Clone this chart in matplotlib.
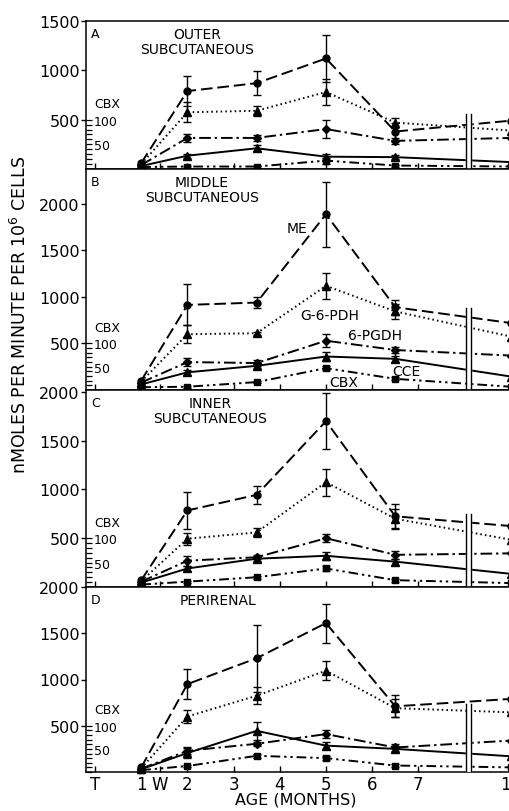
import numpy as np
import matplotlib
matplotlib.use("Agg")
import matplotlib.pyplot as plt
from matplotlib import transforms

# sampling ages (months); 10 sits past the axis break
months = [1, 2, 3.5, 5, 6.5, 10]

panel_letters = ["A", "B", "C", "D"]
panel_titles = ["OUTER\nSUBCUTANEOUS", "MIDDLE\nSUBCUTANEOUS",
                "INNER\nSUBCUTANEOUS", "PERIRENAL"]
panel_ymax = [1500, 2376, 2020, 2000]
panel_yticks = [[500, 1000, 1500], [500, 1000, 1500, 2000],
                [500, 1000, 1500, 2000], [500, 1000, 1500, 2000]]

# one row per panel (A, B, C, D), nmoles/min/10^6 cells
me_vals = [[60, 790, 870, 1120, 380, 490],
           [100, 915, 940, 1890, 890, 720],
           [70, 785, 945, 1700, 725, 625],
           [50, 950, 1230, 1610, 710, 790]]
me_err = [[0, 150, 120, 240, 90, 0],
          [0, 220, 60, 350, 80, 0],
          [0, 190, 90, 290, 130, 0],
          [0, 160, 360, 210, 120, 0]]

g6pdh_vals = [[50, 575, 590, 780, 470, 390],
              [90, 600, 610, 1120, 845, 575],
              [60, 495, 560, 1075, 700, 485],
              [40, 600, 825, 1095, 690, 645]]
g6pdh_err = [[0, 100, 50, 130, 50, 0],
             [0, 100, 15, 140, 80, 0],
             [0, 60, 50, 140, 100, 0],
             [0, 70, 90, 100, 100, 0]]

pgdh_vals = [[40, 315, 315, 405, 285, 315],
             [80, 300, 290, 530, 430, 370],
             [55, 270, 305, 500, 330, 345],
             [35, 230, 305, 410, 265, 340]]
pgdh_err = [[0, 40, 30, 90, 30, 0],
            [0, 40, 30, 70, 30, 0],
            [0, 50, 20, 40, 40, 0],
            [0, 40, 20, 40, 40, 0]]

cce_vals = [[30, 135, 210, 125, 120, 70],
            [60, 190, 260, 360, 335, 145],
            [45, 190, 290, 320, 260, 135],
            [30, 205, 445, 285, 250, 170]]
cce_err = [[0, 20, 30, 30, 20, 0],
           [0, 30, 20, 50, 30, 0],
           [0, 30, 20, 40, 30, 0],
           [0, 50, 100, 40, 30, 0]]

# CBX is read on its own scale (0-100), drawn at x5 on the main axis
cbx_vals = [[4, 5, 5, 17, 7, 5],
            [6, 7, 17, 47, 24, 7],
            [5, 11, 20, 38, 14, 8],
            [4, 13, 35, 30, 14, 10]]
cbx_err = [[0, 2, 2, 6, 2, 0],
           [0, 2, 3, 5, 3, 0],
           [0, 2, 3, 5, 3, 0],
           [0, 2, 4, 4, 3, 0]]
cbx_factor = 5

xtick_pos = [0, 1, 1.41, 2, 3, 4, 5, 6, 7, 10]
xtick_labels = ["T", "1", "W", "2", "3", "4", "5", "6", "7", "10"]

# enzyme names written inside panel B: (text, month, value)
enzyme_labels = [("ME", 4.37, 1740), ("G-6-PDH", 5.09, 806),
                 ("6-PGDH", 6.06, 591), ("CCE", 6.73, 204), ("CBX", 5.39, 86)]


def fwd(m):
    m = np.asarray(m, dtype=float)
    return np.where(m <= 8, m, 8 + (m - 8) / 2)


def inv(p):
    p = np.asarray(p, dtype=float)
    return np.where(p <= 8, p, 8 + (p - 8) * 2)


W, H = 509, 812
fig = plt.figure(figsize=(W / 100, H / 100), dpi=100)
plt.rcParams['font.family'] = 'DejaVu Sans'

panel_px = [(22, 170), (170, 391), (391, 588), (588, 773)]
left_px, right_px = 86, 520

styles = [
    (me_vals, me_err, (0, (6, 2.5)), 'o', 5.0, 1),
    (g6pdh_vals, g6pdh_err, (0, (0.8, 1.6)), '^', 5.5, 1),
    (pgdh_vals, pgdh_err, (0, (6, 2, 1.2, 2)), 'D', 4.0, 1),
    (cce_vals, cce_err, '-', '^', 5.5, 1),
    (cbx_vals, cbx_err, (0, (5, 2, 1.2, 2, 1.2, 2)), 's', 4.5, cbx_factor),
]

for i in range(4):
    top, bot = panel_px[i]
    ax = fig.add_axes([left_px / W, 1 - bot / H, (right_px - left_px) / W, (bot - top) / H])
    ax.set_xscale('function', functions=(fwd, inv))
    ax.set_xlim(-0.195, 10.4)
    ax.set_ylim(0, panel_ymax[i])

    for vals, errs, ls, mk, ms, fac in styles:
        y = np.array(vals[i], dtype=float) * fac
        e = np.array(errs[i], dtype=float) * fac
        ax.plot(months, y, color='black', ls=ls, lw=1.4, marker=mk, ms=ms,
                mfc='black', mec='black', zorder=3, clip_on=False)
        keep = e > 0
        ax.errorbar(np.array(months)[keep], y[keep], yerr=e[keep], fmt='none',
                    ecolor='black', elinewidth=1.0, capsize=2.8, capthick=1.0, zorder=3)

    # axis break
    ax.axvspan(8.045, 8.30, ymin=0, ymax=0.37, color='white', zorder=4)
    for xb in (8.045, 8.30):
        ax.axvline(xb, ymin=0, ymax=0.37, color='black', lw=1.0, zorder=5)

    for s in ax.spines.values():
        s.set_linewidth(1.1)
    ax.spines['right'].set_visible(False)

    ax.set_yticks(panel_yticks[i])
    ax.tick_params(axis='y', direction='out', length=3.5, width=1.0, pad=1, labelsize=11.5)
    ax.set_xticks(xtick_pos)
    ax.tick_params(axis='x', direction='in', length=4, width=1.0, pad=2.5, labelsize=12)
    if i < 3:
        ax.set_xticklabels([])
    else:
        ax.set_xticklabels(xtick_labels)
        ax.set_xlabel("AGE (MONTHS)", fontsize=11.5)
        ax.xaxis.set_label_coords(0.484, -0.108)

    # CBX scale on the inside of the left spine
    sec = ax.secondary_yaxis('left', functions=(lambda v: v / cbx_factor, lambda c: c * cbx_factor))
    sec.yaxis.set_ticks_position('right')
    sec.set_yticks([50, 100])
    sec.set_yticks(np.arange(0, 101, 10), minor=True)
    sec.tick_params(which='both', direction='out', length=4.5, width=0.9, pad=1, labelsize=9)
    sec.spines['left'].set_visible(False)
    blend = transforms.blended_transform_factory(ax.transAxes, ax.transData)
    ax.annotate("CBX", xy=(0, 500), xycoords=blend, xytext=(6, 7),
                textcoords='offset points', fontsize=9, ha='left', va='bottom')

    ax.annotate(panel_letters[i], xy=(0, 1), xycoords='axes fraction', xytext=(3.5, -4),
                textcoords='offset points', fontsize=9, ha='left', va='top')
    title_x = [0.256, 0.267, 0.286, 0.304][i]
    ax.annotate(panel_titles[i], xy=(title_x, 1), xycoords='axes fraction', xytext=(0, -4),
                textcoords='offset points', fontsize=10, ha='center', va='top',
                linespacing=1.15)

    if i == 1:
        for txt, mx, vy in enzyme_labels:
            ax.text(mx, vy, txt, fontsize=10, ha='center', va='center', zorder=6)

fig.text(0.039, 0.612, "nMOLES PER MINUTE PER 10$^6$ CELLS", rotation=90,
         ha='center', va='center', fontsize=12.5)

fig.savefig("out.png", dpi=100)
plt.close(fig)
